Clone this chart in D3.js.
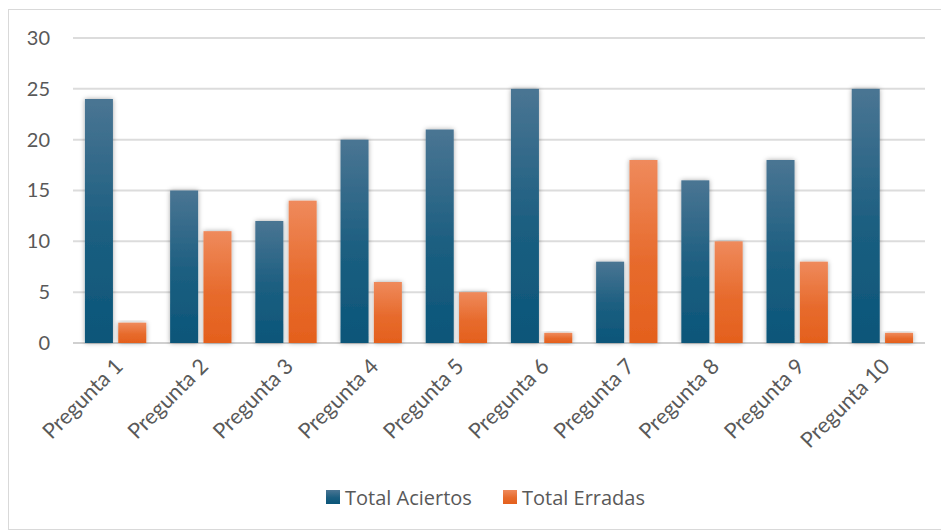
<!DOCTYPE html>
<html>
<head>
<meta charset="utf-8">
<script src="https://cdn.jsdelivr.net/npm/d3@7"></script>
<style>
  body { margin: 0; background: #fff; }
  text { font-family: "Lato", "Open Sans", sans-serif; fill: #595959; }
</style>
</head>
<body>
<div id="chart"></div>
<script>
/* DATA */
const categories = ["Pregunta 1", "Pregunta 2", "Pregunta 3", "Pregunta 4", "Pregunta 5",
  "Pregunta 6", "Pregunta 7", "Pregunta 8", "Pregunta 9", "Pregunta 10"];
const aciertos = [24, 15, 12, 20, 21, 25, 8, 16, 18, 25];
const erradas = [2, 11, 14, 6, 5, 1, 18, 10, 8, 1];
const seriesNames = ["Total Aciertos", "Total Erradas"];
const yTicks = [0, 5, 10, 15, 20, 25, 30];

/* CONSTANTS */
const width = 941, height = 531;
const margin = { top: 38, bottom: 188, left: 73, right: 16 };

const svg = d3.select("#chart").append("svg")
  .attr("width", width).attr("height", height);

// gradients + shadow
const defs = svg.append("defs");
const grads = [
  { id: "gBlue", top: "#4a7593", bottom: "#0b5679" },
  { id: "gOrange", top: "#ef8a5c", bottom: "#e4601d" }
];
grads.forEach(g => {
  const lg = defs.append("linearGradient").attr("id", g.id)
    .attr("x1", 0).attr("y1", 0).attr("x2", 0).attr("y2", 1);
  lg.append("stop").attr("offset", "0%").attr("stop-color", g.top);
  lg.append("stop").attr("offset", "55%").attr("stop-color", d3.interpolateRgb(g.top, g.bottom)(0.75));
  lg.append("stop").attr("offset", "100%").attr("stop-color", g.bottom);
});
const f = defs.append("filter").attr("id", "shadow")
  .attr("x", "-40%").attr("y", "-10%").attr("width", "180%").attr("height", "130%");
f.append("feDropShadow").attr("dx", 0).attr("dy", 0).attr("stdDeviation", 2.5)
  .attr("flood-color", "#000").attr("flood-opacity", 0.35);

// frame
svg.append("rect").attr("x", 8.5).attr("y", 9.5).attr("width", 940).attr("height", 520)
  .attr("fill", "none").attr("stroke", "#d9d9d9").attr("stroke-width", 1);

/* SCALES */
const xScale = d3.scaleBand().domain(categories)
  .range([margin.left, width - margin.right]).paddingInner(0.28).paddingOuter(0.14);
const xInner = d3.scaleBand().domain([0, 1]).range([0, xScale.bandwidth()]).paddingInner(0.16);
const yScale = d3.scaleLinear().domain([0, 30]).range([height - margin.bottom, margin.top]);

// gridlines
svg.append("g").selectAll("line").data(yTicks).join("line")
  .attr("x1", margin.left).attr("x2", width - margin.right)
  .attr("y1", d => yScale(d)).attr("y2", d => yScale(d))
  .attr("stroke", d => d === 0 ? "#d0d0d0" : "#dcdcdc").attr("stroke-width", 2);

// y axis labels
const yAxis = svg.append("g").attr("transform", `translate(50,0)`)
  .call(d3.axisLeft(yScale).tickValues(yTicks).tickSize(0).tickPadding(0));
yAxis.select(".domain").remove();
yAxis.selectAll("text").style("font-size", "20px").attr("fill", "#595959")
  .style("font-family", "Lato, sans-serif");

// bars
const rows = categories.map((c, i) => ({ cat: c, vals: [aciertos[i], erradas[i]] }));
svg.append("g").selectAll("g").data(rows).join("g")
  .attr("transform", d => `translate(${xScale(d.cat)},0)`)
  .selectAll("rect").data(d => d.vals.map((v, k) => ({ v, k }))).join("rect")
  .attr("x", d => xInner(d.k)).attr("width", xInner.bandwidth())
  .attr("y", d => yScale(d.v)).attr("height", d => yScale(0) - yScale(d.v))
  .attr("fill", d => d.k === 0 ? "url(#gBlue)" : "url(#gOrange)")
  .attr("filter", "url(#shadow)");

// x axis labels
const xAxis = svg.append("g").attr("transform", `translate(0,${yScale(0)})`)
  .call(d3.axisBottom(xScale).tickSize(0).tickPadding(0));
xAxis.select(".domain").remove();
xAxis.selectAll("text")
  .style("font-size", "21.5px").style("font-family", "Lato, sans-serif")
  .attr("fill", "#595959")
  .attr("text-anchor", "end")
  .attr("transform", "translate(-2,14) rotate(-45)")
  .attr("dy", "0.7em");

// legend
const legendX = [326, 503];
const lg = svg.append("g").selectAll("g").data(seriesNames).join("g")
  .attr("transform", (d, i) => `translate(${legendX[i]},490)`);
lg.append("rect").attr("width", 14).attr("height", 14)
  .attr("fill", (d, i) => i === 0 ? "url(#gBlue)" : "url(#gOrange)");
lg.append("text").attr("x", 19).attr("y", 14.5).text(d => d)
  .style("font-size", "20px").style("font-family", "'Open Sans', sans-serif");
</script>
</body>
</html>
